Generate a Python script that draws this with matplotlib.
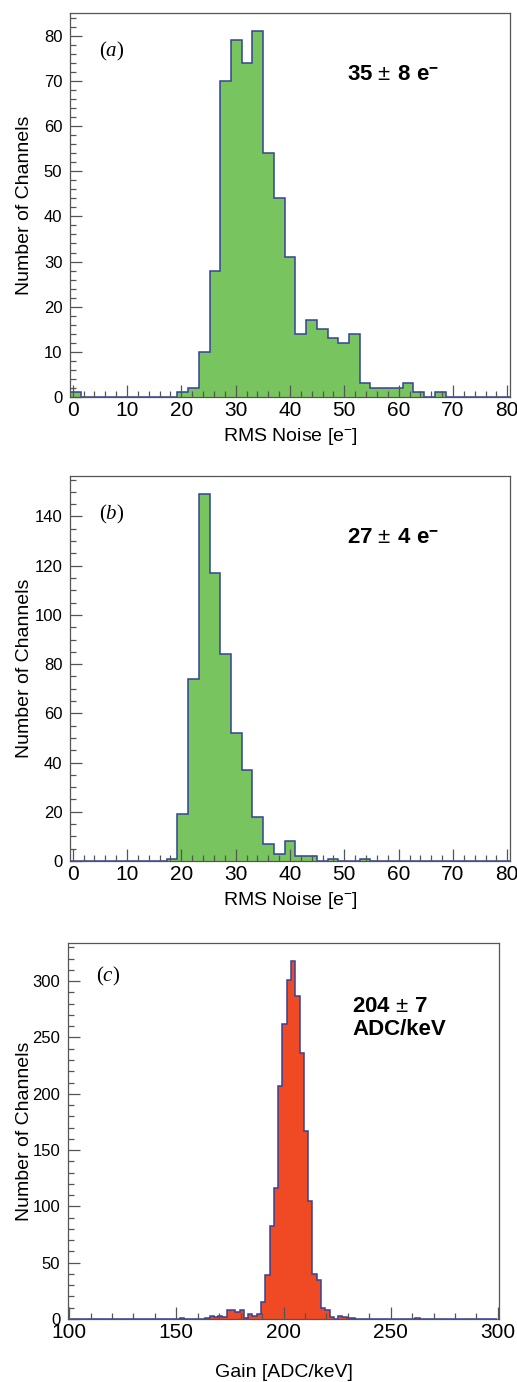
import numpy as np
import matplotlib
matplotlib.use("Agg")
import matplotlib.pyplot as plt
from matplotlib.ticker import MultipleLocator

plt.rcParams['font.family'] = ['Liberation Sans', 'DejaVu Sans']
plt.rcParams['mathtext.fontset'] = 'custom'
plt.rcParams['mathtext.rm'] = 'Liberation Sans'
plt.rcParams['mathtext.it'] = 'Liberation Serif:italic'
plt.rcParams['mathtext.bf'] = 'Liberation Sans:bold'

# RMS noise histograms: 41 bins from -0.5 to 80.5
noise_lo, noise_hi, noise_nbins = -0.5, 80.5, 41
noise_a = [1, 0, 0, 0, 0, 0, 0, 0, 0, 0,
           1, 2, 10, 28, 70, 79, 74, 81, 54, 44,
           31, 14, 17, 15, 13, 12, 14, 3, 2, 2,
           2, 3, 1, 0, 1, 0, 0, 0, 0, 0, 0]
noise_b = [0, 0, 0, 0, 0, 0, 0, 0, 0, 1,
           19, 74, 149, 117, 84, 52, 37, 18, 7, 3,
           8, 2, 2, 0, 1, 0, 0, 1, 0, 0,
           0, 0, 0, 0, 0, 0, 0, 0, 0, 0, 0]

# Gain histogram: bins of 2 ADC/keV starting at 99.5
gain_lo, gain_width = 99.5, 2
gain_c = [0] * 26 + [1, 0, 0, 0, 0, 0,
                     1, 3, 2, 3, 2, 8, 8, 6, 8, 1,
                     4, 3, 4, 15, 39, 83, 116, 207, 262, 301,
                     318, 287, 236, 167, 105, 40, 35, 10, 8, 2,
                     0, 3, 2, 1, 1] + [0] * 14 + [1] + [0] * 18

green = '#78c45e'
red = '#ef4a24'
edge = '#34429a'
frame = '#555555'

fig = plt.figure(figsize=(5.17, 13.82), dpi=100)
W, H = 517, 1382


def add_axes(x0, x1, y_top, y_bot):
    return fig.add_axes([x0 / W, 1 - y_bot / H, (x1 - x0) / W, (y_bot - y_top) / H])


def style(ax, xmaj, xmin, ymaj, ymin):
    ax.xaxis.set_major_locator(MultipleLocator(xmaj))
    ax.xaxis.set_minor_locator(MultipleLocator(xmin))
    ax.yaxis.set_major_locator(MultipleLocator(ymaj))
    ax.yaxis.set_minor_locator(MultipleLocator(ymin))
    ax.tick_params(which='both', direction='in', top=False, right=False, color=frame)
    ax.tick_params(which='major', length=8.5, width=0.9)
    ax.tick_params(which='minor', length=4.3, width=0.9)
    ax.tick_params(axis='x', which='major', labelsize=15, pad=3)
    ax.tick_params(axis='y', which='major', labelsize=12, pad=5.5)
    for s in ax.spines.values():
        s.set_color(frame)
        s.set_linewidth(0.9)
    ax.set_ylabel('Number of Channels', fontsize=14)
    x0 = ax.get_position().x0 * W
    ax.yaxis.set_label_coords(-(x0 - 33) / (ax.get_position().width * W), 0.5)


def draw_hist(ax, counts, edges, fill):
    ax.stairs(counts, edges, fill=True, color=fill, linewidth=0)
    ax.stairs(counts, edges, color=edge, linewidth=1.1)


noise_edges = np.linspace(noise_lo, noise_hi, noise_nbins + 1)
gain_edges = gain_lo + gain_width * np.arange(len(gain_c) + 1)

# (a)
ax1 = add_axes(70, 510, 13, 397)
draw_hist(ax1, noise_a, noise_edges, green)
ax1.set_xlim(noise_lo, noise_hi)
ax1.set_ylim(0, max(noise_a) * 1.05)
style(ax1, 10, 2, 10, 2)
ax1.set_xlabel('RMS Noise [e$^{-}$]', fontsize=14, labelpad=4)
ax1.text(0.066, 0.9, r'($\mathit{a}$)', transform=ax1.transAxes, fontsize=15,
         family='Liberation Serif', va='center')
ax1.text(0.63, 0.84, r'35$\,\pm\;$8 e$^{\mathbf{-}}$', transform=ax1.transAxes,
         fontsize=16, fontweight='bold', va='center')

# (b)
ax2 = add_axes(70, 510, 476, 861)
draw_hist(ax2, noise_b, noise_edges, green)
ax2.set_xlim(noise_lo, noise_hi)
ax2.set_ylim(0, max(noise_b) * 1.05)
style(ax2, 10, 2, 20, 5)
ax2.set_xlabel('RMS Noise [e$^{-}$]', fontsize=14, labelpad=4)
ax2.text(0.066, 0.9, r'($\mathit{b}$)', transform=ax2.transAxes, fontsize=15,
         family='Liberation Serif', va='center')
ax2.text(0.63, 0.84, r'27$\,\pm\;$4 e$^{\mathbf{-}}$', transform=ax2.transAxes,
         fontsize=16, fontweight='bold', va='center')

# (c)
ax3 = add_axes(68, 499, 943, 1319)
draw_hist(ax3, gain_c, gain_edges, red)
ax3.set_xlim(99.5, 300.5)
ax3.set_ylim(0, max(gain_c) * 1.05)
style(ax3, 50, 10, 50, 10)
ax3.set_xlabel('Gain [ADC/keV]', fontsize=14, labelpad=16)
ax3.text(0.066, 0.91, r'($\mathit{c}$)', transform=ax3.transAxes, fontsize=15,
         family='Liberation Serif', va='center')
ax3.text(0.66, 0.80, '204$\\,\\pm\\;$7\nADC/keV', transform=ax3.transAxes,
         fontsize=16, fontweight='bold', va='center', linespacing=1.1)

fig.savefig('out.png', dpi=100)
